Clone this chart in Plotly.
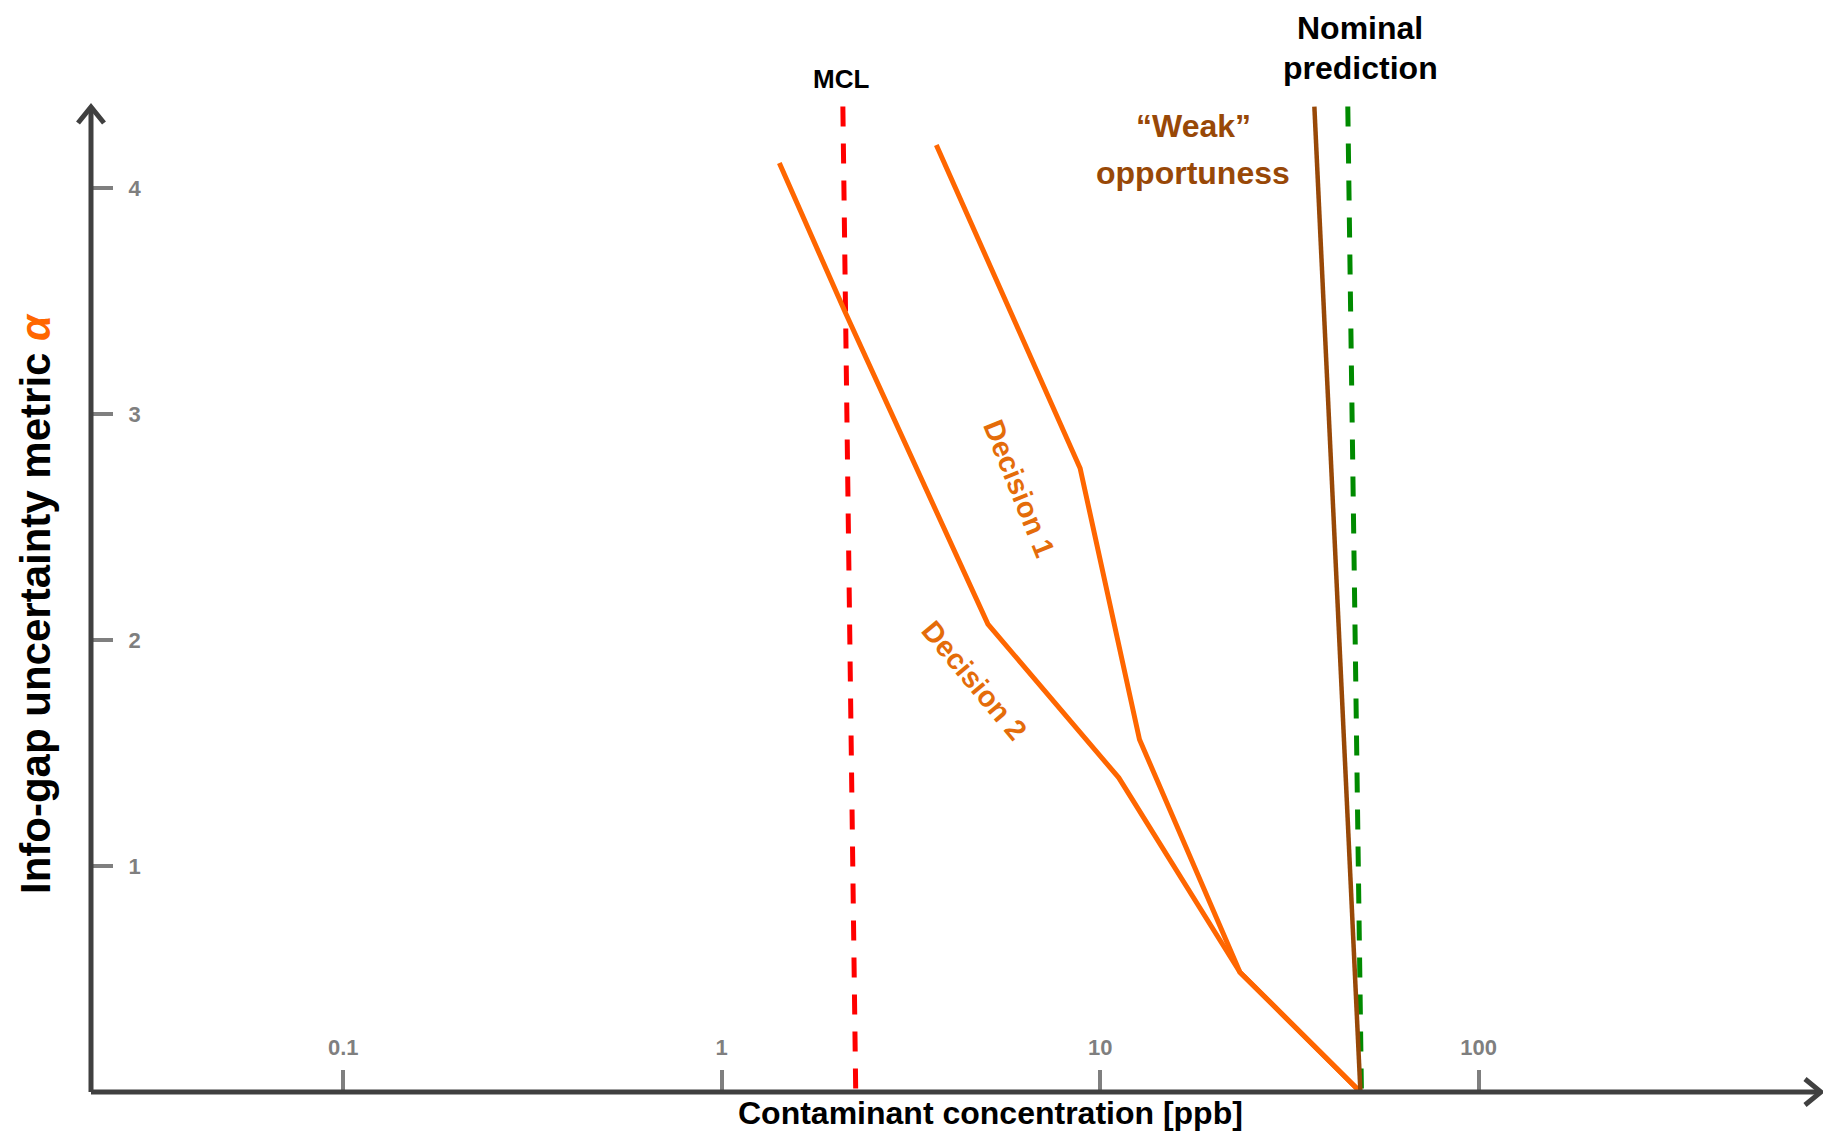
import plotly.graph_objects as go

# ---- data ----
dec2_x = [1.42, 2.12, 5.05, 11.2, 23.4, 48.7]
dec2_a = [4.11, 3.45, 2.07, 1.39, 0.53, 0.0]

dec1_x = [3.69, 8.85, 12.7, 23.4, 48.7]
dec1_a = [4.19, 2.76, 1.56, 0.53, 0.0]

weak_x = [36.8, 48.7]
weak_a = [4.36, 0.0]

nominal_x = [45.1, 49.0]
nominal_a = [4.36, 0.0]

mcl_x = [2.09, 2.26]
mcl_a = [4.36, 0.0]

x_tickvals = [0.1, 1, 10, 100]
x_ticktext = ["0.1", "1", "10", "100"]
y_tickvals = [1, 2, 3, 4]
y_ticktext = ["1", "2", "3", "4"]

# ---- layout geometry (page has an 8px body margin) ----
OFF = 8
W, H = 1815, 1125
L, R, T, B = 83, 1, 90, 41
PW, PH = W - L - R, H - T - B

FONT = "Liberation Sans, Arial, sans-serif"
ORANGE = "#FF6600"
ORANGE_TXT = "#E46C0A"
BROWN = "#984807"
GREEN = "#008A00"
RED = "#FF0000"
AXIS = "#404040"
TICK = "#7F7F7F"


def px(x):  # page x -> paper
    return (x - OFF - L) / PW


def py(y):  # page y -> paper
    return (H - B - (y - OFF)) / PH


fig = go.Figure()

fig.add_trace(go.Scatter(x=mcl_x, y=mcl_a, mode="lines",
                         line=dict(color=RED, width=5, dash="20px,17px"),
                         hoverinfo="skip"))
fig.add_trace(go.Scatter(x=nominal_x, y=nominal_a, mode="lines",
                         line=dict(color=GREEN, width=5, dash="20px,17px"),
                         hoverinfo="skip"))
fig.add_trace(go.Scatter(x=dec2_x, y=dec2_a, mode="lines",
                         line=dict(color=ORANGE, width=5), hoverinfo="skip"))
fig.add_trace(go.Scatter(x=dec1_x, y=dec1_a, mode="lines",
                         line=dict(color=ORANGE, width=5), hoverinfo="skip"))
fig.add_trace(go.Scatter(x=weak_x, y=weak_a, mode="lines",
                         line=dict(color=BROWN, width=4.5), hoverinfo="skip"))

shapes = []
shapes.append(dict(type="line", xref="paper", yref="paper",
                   x0=px(91), y0=py(1092), x1=px(1821), y1=py(1092),
                   line=dict(color=AXIS, width=5)))
shapes.append(dict(type="line", xref="paper", yref="paper",
                   x0=px(91), y0=py(1092), x1=px(91), y1=py(108),
                   line=dict(color=AXIS, width=5)))
shapes.append(dict(type="path", xref="paper", yref="paper",
                   path=f"M {px(78)},{py(123)} L {px(91)},{py(107)} L {px(104)},{py(123)}",
                   line=dict(color=AXIS, width=5)))
shapes.append(dict(type="path", xref="paper", yref="paper",
                   path=f"M {px(1805)},{py(1079)} L {px(1821)},{py(1092)} L {px(1805)},{py(1105)}",
                   line=dict(color=AXIS, width=5)))


def ann(text, x, y, size, color, angle=0, **kw):
    d = dict(text=text, xref="paper", yref="paper", x=px(x), y=py(y),
             textangle=angle, showarrow=False,
             font=dict(size=size, color=color, family=FONT),
             xanchor="center", yanchor="middle")
    d.update(kw)
    return d


annotations = [
    ann("<b>Info-gap uncertainty metric <i><span style='color:%s'>α</span></i></b>" % ORANGE,
        35, 604, 42, "black", -90),
    dict(text="<b>Contaminant concentration [ppb]</b>", xref="paper", yref="paper",
         x=px(990), y=(0 - B) / PH, showarrow=False,
         font=dict(size=32, color="black", family=FONT),
         xanchor="center", yanchor="bottom"),
    ann("<b>MCL</b>", 841, 79, 26, "black"),
    dict(text="<b>Nominal</b>", xref="paper", yref="paper",
         x=px(1360), y=(PH + T) / PH, showarrow=False,
         font=dict(size=32, color="black", family=FONT),
         xanchor="center", yanchor="top"),
    ann("<b>prediction</b>", 1360, 68, 32, "black"),
    ann("<b>“Weak”</b>", 1193, 126, 32, BROWN),
    ann("<b>opportuness</b>", 1193, 173, 32, BROWN),
    ann("<b>Decision 1</b>", 1019, 488, 29, ORANGE_TXT, 68),
    ann("<b>Decision 2</b>", 974, 680, 29, ORANGE_TXT, 50),
]

fig.update_layout(
    width=W, height=H,
    margin=dict(l=L, r=R, t=T, b=B, pad=0),
    paper_bgcolor="white", plot_bgcolor="white",
    showlegend=False,
    shapes=shapes,
    annotations=annotations,
    xaxis=dict(type="log", range=[-1.6663, 2.907], showgrid=False,
               zeroline=False, showline=False,
               tickvals=x_tickvals, ticktext=x_ticktext,
               ticks="inside", ticklen=22, tickwidth=4, tickcolor=TICK,
               ticklabelposition="inside", ticklabelstandoff=12,
               tickfont=dict(size=22, color=TICK, family=FONT, weight="bold")),
    yaxis=dict(range=[0, 4.398], showgrid=False, zeroline=False,
               showline=False,
               tickvals=y_tickvals, ticktext=y_ticktext,
               ticks="inside", ticklen=22, tickwidth=4, tickcolor=TICK,
               ticklabelposition="inside", ticklabelstandoff=17,
               tickfont=dict(size=22, color=TICK, family=FONT, weight="bold")),
)

fig.write_html("out.html")
